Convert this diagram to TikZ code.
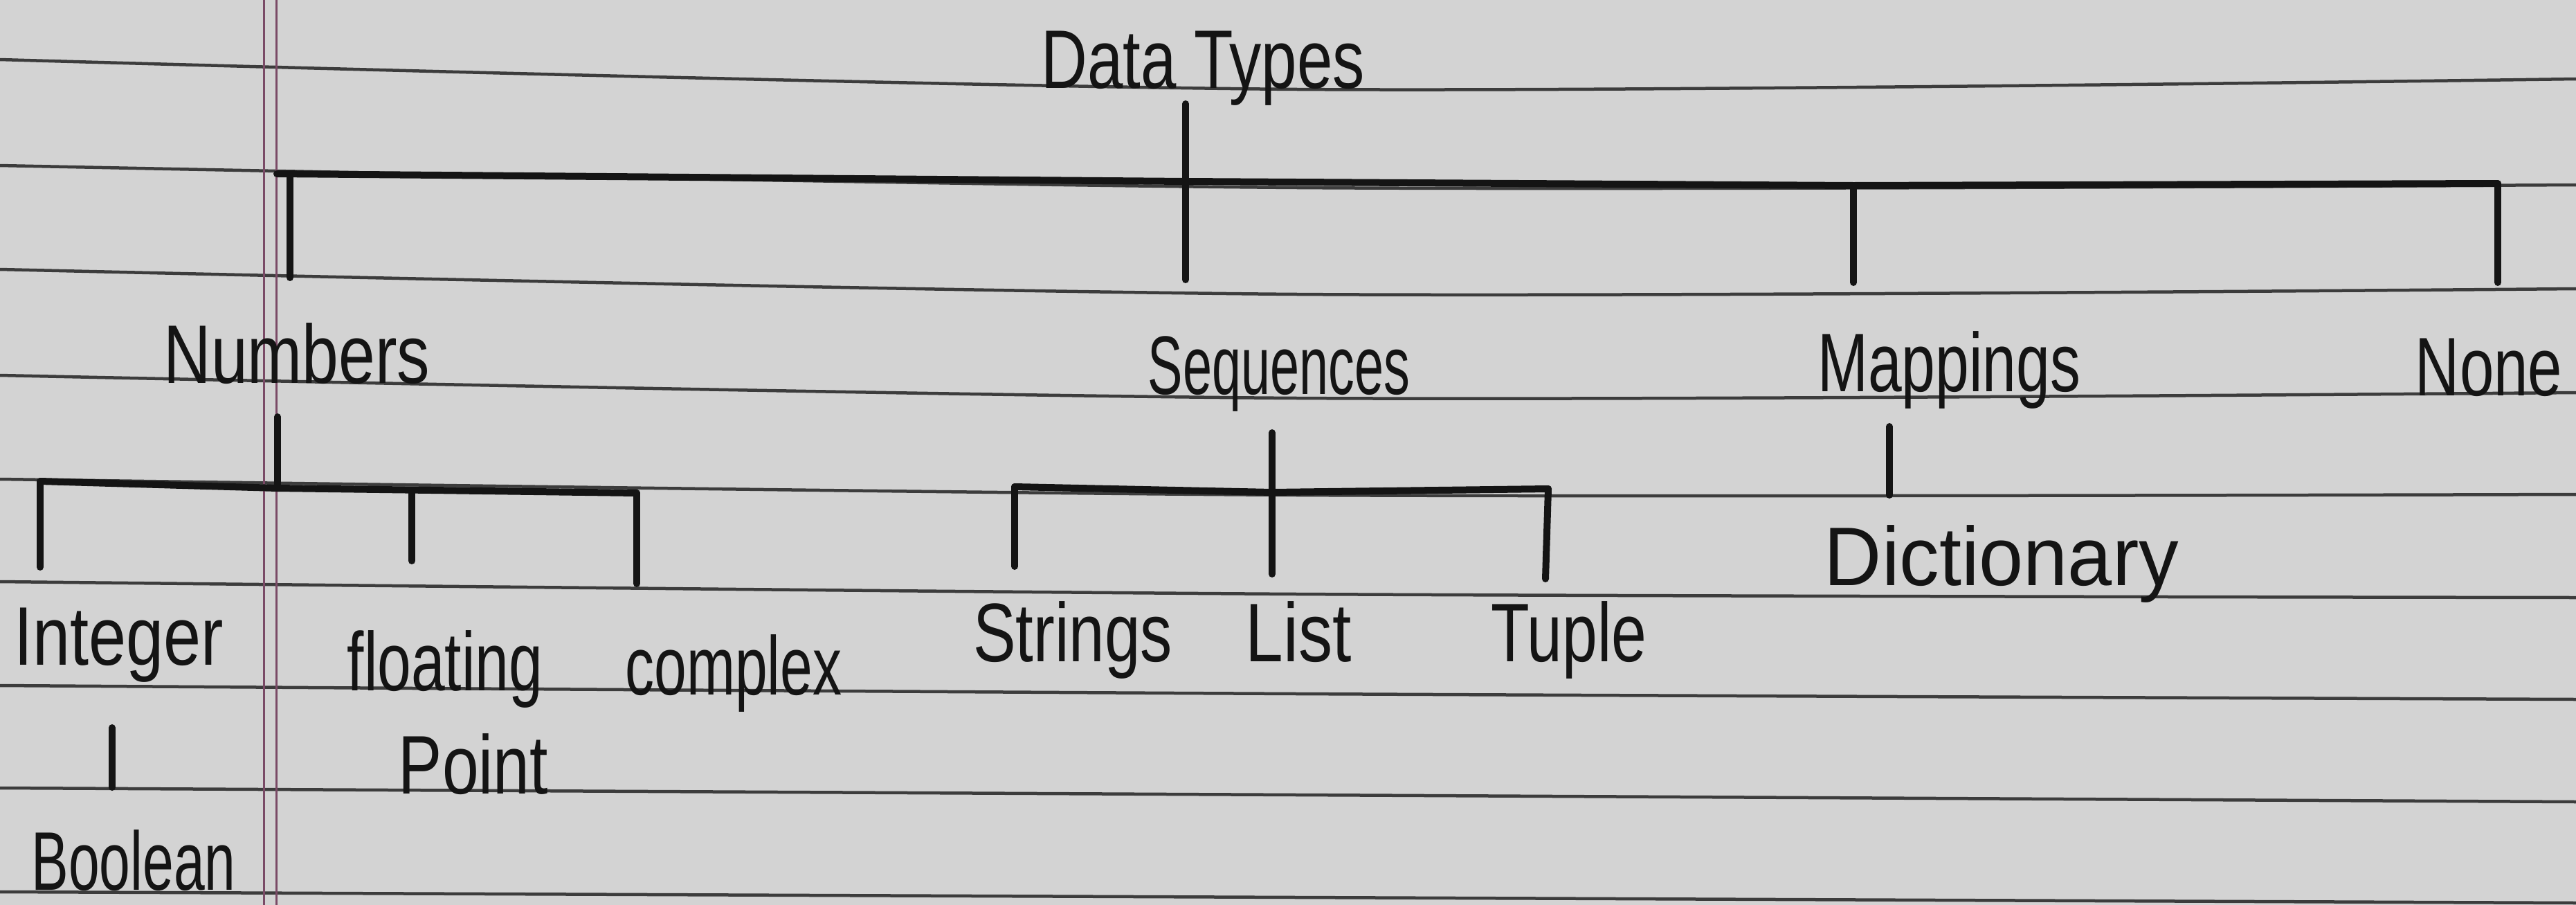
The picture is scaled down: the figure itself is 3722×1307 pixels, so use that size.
\documentclass[tikz,border=0pt]{standalone}
\usepackage{fontspec}
\usepackage{graphicx}
\newfontfamily\handfont{Liberation Sans}
\newcommand\hw[2]{\scalebox{#1}[1]{#2}}
\definecolor{paperc}{HTML}{D3D3D3}
\definecolor{rulec}{HTML}{3C3C3C}
\definecolor{inkc}{HTML}{141414}
\definecolor{marginc}{HTML}{7A4A66}
\begin{document}
\begin{tikzpicture}[x=0.2pt,y=-0.2pt,
  ink/.style={line width=2pt, draw=inkc, line cap=round, line join=round},
  lbl/.style={font=\handfont\fontsize{24}{24}\selectfont, text=inkc, anchor=base, inner sep=0pt},
  rule/.style={line width=0.9pt, draw=rulec},
  margin/.style={line width=0.6pt, draw=marginc}]
\useasboundingbox (0,0) rectangle (3722,1307);
\fill[paperc] (0,0) rectangle (3722,1307);
% ruled notebook lines
\foreach \a/\b/\c in {86/129/114, 239/271/267, 389/425/417, 542/575/567, 692/715/714, 840/858/863, 990/1002/1010, 1138/1148/1158, 1288/1296/1304}
  \draw[rule] plot[smooth] coordinates {(0,\a) (1875,\b) (3722,\c)};
% margin
\draw[margin] (381,0) -- (381,1307);
\draw[margin] (399,0) -- (399,1307);

% labels
\node[lbl] (dt) at (1738,127) {\hw{0.77}{Data Types}};
\node[lbl] (num) at (429,553) {\hw{0.79}{Numbers}};
\node[lbl] (seq) at (1848,569) {\hw{0.63}{Sequences}};
\node[lbl] (map) at (2816,565) {\hw{0.73}{Mappings}};
\node[lbl] (none) at (3596,571) {\hw{0.74}{None}};
\node[lbl] (int) at (172,960) {\hw{0.81}{Integer}};
\node[lbl] (flo) at (643,997) {\hw{0.73}{floating}};
\node[lbl] (pt) at (684,1146) {\hw{0.79}{Point}};
\node[lbl] (cplx) at (1060,1003) {\hw{0.70}{complex}};
\node[lbl] (bool) at (193,1285) {\hw{0.67}{Boolean}};
\node[lbl] (str) at (1550,955) {\hw{0.77}{Strings}};
\node[lbl] (list) at (1876,955) {\hw{0.82}{List}};
\node[lbl] (tup) at (2267,955) {\hw{0.76}{Tuple}};
\node[lbl] (dict) at (2892,845) {\hw{0.96}{Dictionary}};

% junction coordinates
\coordinate (dtS) at (1713,150);
\coordinate (topL) at (400,251);
\coordinate (topM) at (1713,262);
\coordinate (topMap) at (2678,268);
\coordinate (topR) at (3609,265);
\coordinate (numE) at (419,401);
\coordinate (seqE) at (1713,404);
\coordinate (mapE) at (2678,408);
\coordinate (noneE) at (3609,408);

\coordinate (numS) at (401,602);
\coordinate (nbL) at (58,695);
\coordinate (nbM) at (401,705);
\coordinate (nbF) at (595,710);
\coordinate (nbR) at (920,712);
\coordinate (intE) at (58,819);
\coordinate (floE) at (595,810);
\coordinate (cplxE) at (920,843);

\coordinate (seqS) at (1838,625);
\coordinate (sbL) at (1466,703);
\coordinate (sbR) at (2237,706);
\coordinate (strE) at (1466,818);
\coordinate (listE) at (1838,829);
\coordinate (tupE) at (2233,836);

\coordinate (mapS) at (2730,616);
\coordinate (dictE) at (2730,715);
\coordinate (intS) at (162,1051);
\coordinate (boolE) at (162,1137);

% top level
\draw[ink] (dtS) -- (seqE);
\draw[ink] (topL) -- (topM) -- (topMap) -- (topR);
\draw[ink] (topL -| numE) -- (numE);
\draw[ink] (topMap) -- (mapE);
\draw[ink] (topR) -- (noneE);

% numbers
\draw[ink] (numS) -- (nbM);
\draw[ink] (nbL) -- (nbM) -- (nbR);
\draw[ink] (nbL) -- (intE);
\draw[ink] (nbF) -- (floE);
\draw[ink] (nbR) -- (cplxE);
\draw[ink] (intS) -- (boolE);

% sequences
\draw[ink] (seqS) -- (listE);
\draw[ink] (sbL) -- (1838,711) -- (sbR);
\draw[ink] (sbL) -- (strE);
\draw[ink] (sbR) -- (tupE);

% mappings
\draw[ink] (mapS) -- (dictE);
\end{tikzpicture}
\end{document}
